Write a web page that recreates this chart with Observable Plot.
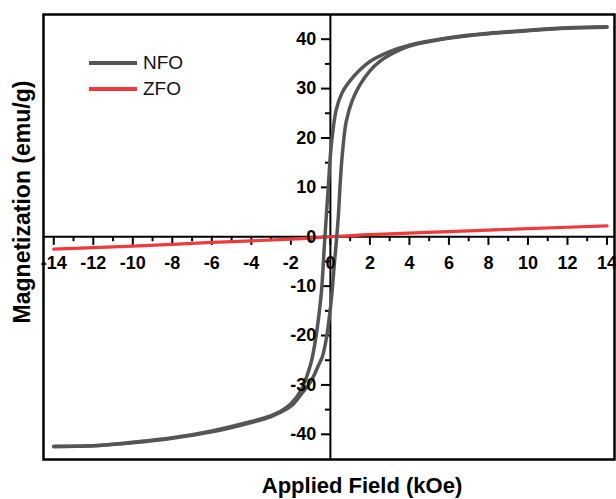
<!DOCTYPE html>
<html>
<head>
<meta charset="utf-8">
<script src="https://cdn.jsdelivr.net/npm/d3@7"></script>
<script src="https://cdn.jsdelivr.net/npm/@observablehq/plot@0.6"></script>
<style>
  html, body { margin: 0; padding: 0; background: #fff; }
  #wrap { position: relative; width: 616px; height: 499px; font-family: "Liberation Sans", Arial, sans-serif; }
  #legend { position: absolute; left: 89px; top: 50px; font-size: 19px; color: #111; }
  .row { display: flex; align-items: center; height: 26px; }
  .sw { width: 48px; height: 3.5px; margin-right: 6px; }
</style>
</head>
<body>
<div id="wrap">
  <div id="chart"></div>
  <div id="legend"></div>
</div>
<script>
// ---- data ----
const seriesNames = ["NFO", "ZFO"];
const seriesColors = ["#555555", "#ef3a3d"];

// NFO descending branch (field from +14 to -14)
const nfoDownH = [14, 12, 10, 8, 6, 4, 3, 2, 1.5, 1, 0.6, 0.3, 0.1, 0, -0.1, -0.2, -0.3, -0.45, -0.6, -0.8, -1, -1.5, -2, -2.5, -3, -4, -6, -8, -10, -12, -14];
const nfoDownM = [42.5, 42.3, 41.8, 41.2, 40.3, 38.8, 37.5, 35.5, 33.8, 31.6, 29.2, 25.8, 20.5, 16.5, 10.5, 4.5, -1.5, -11, -16.5, -22, -25.8, -31.2, -33.8, -35.3, -36.2, -37.4, -39.3, -40.7, -41.6, -42.3, -42.4];

// NFO ascending branch (field from -14 to +14)
const nfoUpH = [-14, -12, -10, -8, -6, -4, -3, -2, -1.5, -1, -0.6, -0.4, -0.2, 0, 0.1, 0.2, 0.3, 0.4, 0.5, 0.6, 0.8, 1.1, 1.5, 2, 2.5, 3, 4, 6, 8, 10, 12, 14];
const nfoUpM = [-42.5, -42.3, -41.7, -40.8, -39.5, -37.6, -36.4, -34.3, -32.0, -29.4, -26.0, -24.2, -20.5, -14.5, -10.5, -5.5, -1, 4, 11, 16.5, 23.3, 27.5, 30.8, 33.6, 35.5, 36.8, 38.6, 40.2, 41.1, 41.7, 42.2, 42.4];

// ZFO (nearly linear)
const zfoH = [-14, -10, -6, -2, 0, 2, 6, 10, 14];
const zfoM = [-2.5, -1.9, -1.15, -0.5, 0, 0.45, 1.05, 1.65, 2.2];

// ticks
const xMajor = [-14, -12, -10, -8, -6, -4, -2, 0, 2, 4, 6, 8, 10, 12, 14];
const xMinor = [-13, -11, -9, -7, -5, -3, -1, 1, 3, 5, 7, 9, 11, 13];
const yMajor = [-40, -30, -20, -10, 0, 10, 20, 30, 40];
const yMinor = [-35, -25, -15, -5, 5, 15, 25, 35];

const xLabel = "Applied Field (kOe)";
const yLabel = "Magnetization (emu/g)";

// ---- build ----
const nfoDown = nfoDownH.map((h, i) => ({h, m: nfoDownM[i], b: "down"}));
const nfoUp = nfoUpH.map((h, i) => ({h, m: nfoUpM[i], b: "up"}));
const zfo = zfoH.map((h, i) => ({h, m: zfoM[i]}));

const font = "'Liberation Sans', Arial, sans-serif";
const tickLenX = 1.75, minorLenX = 1.0;   // in y units
const tickLenY = 0.45, minorLenY = 0.25;  // in x units

const chart = Plot.plot({
  width: 616,
  height: 499,
  marginLeft: 43,
  marginRight: 2,
  marginTop: 14,
  marginBottom: 40,
  style: {fontFamily: font, background: "white", color: "#000"},
  x: {domain: [-14.52, 14.38], axis: null},
  y: {domain: [-45.1, 45], axis: null},
  marks: [
    Plot.ruleY([0], {stroke: "black", strokeWidth: 2}),
    Plot.ruleX([0], {stroke: "black", strokeWidth: 2}),
    Plot.ruleX(xMajor, {x: d => d, y1: 0, y2: -tickLenX, stroke: "black", strokeWidth: 2}),
    Plot.ruleX(xMinor, {x: d => d, y1: 0, y2: -minorLenX, stroke: "black", strokeWidth: 2}),
    Plot.ruleY(yMajor, {y: d => d, x1: 0, x2: -tickLenY, stroke: "black", strokeWidth: 2}),
    Plot.ruleY(yMinor, {y: d => d, x1: 0, x2: -minorLenY, stroke: "black", strokeWidth: 2}),
    Plot.line(zfo, {x: "h", y: "m", stroke: seriesColors[1], strokeWidth: 3.2, curve: "catmull-rom"}),
    Plot.line(nfoDown, {x: "h", y: "m", stroke: seriesColors[0], strokeWidth: 3.5, curve: "catmull-rom"}),
    Plot.line(nfoUp, {x: "h", y: "m", stroke: seriesColors[0], strokeWidth: 3.5, curve: "catmull-rom"}),
    Plot.text(xMajor, {x: d => d, y: 0, dy: 26, text: d => String(d), fontSize: 18, fontWeight: "bold", fill: "black"}),
    Plot.text(yMajor, {x: 0, y: d => d, dx: -14, text: d => String(d), textAnchor: "end", fontSize: 18, fontWeight: "bold", fill: "black"}),
    Plot.text([xLabel], {frameAnchor: "bottom", dx: 33, dy: 26, text: d => d, textAnchor: "middle", lineAnchor: "middle", fontSize: 22, fontWeight: "bold", fill: "black"}),
    Plot.text([yLabel], {frameAnchor: "left", dx: -21, dy: -35, rotate: -90, text: d => d, textAnchor: "middle", lineAnchor: "middle", fontSize: 23, fontWeight: "bold", fill: "black"}),
    Plot.frame({stroke: "black", strokeWidth: 2.5})
  ]
});
document.getElementById("chart").appendChild(chart);

const legend = document.getElementById("legend");
seriesNames.forEach((n, i) => {
  const row = document.createElement("div");
  row.className = "row";
  const sw = document.createElement("div");
  sw.className = "sw";
  sw.style.background = seriesColors[i];
  const t = document.createElement("span");
  t.textContent = n;
  row.appendChild(sw);
  row.appendChild(t);
  legend.appendChild(row);
});
</script>
</body>
</html>
